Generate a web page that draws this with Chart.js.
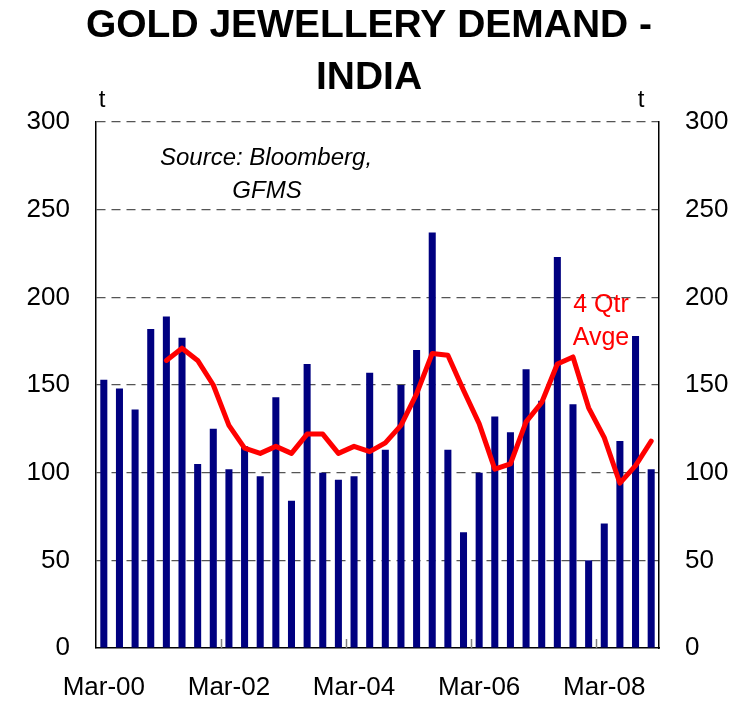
<!DOCTYPE html>
<html>
<head>
<meta charset="utf-8">
<title>Gold Jewellery Demand - India</title>
<script src="https://cdn.jsdelivr.net/npm/chart.js@4/dist/chart.umd.min.js"></script>
<style>
  html, body { margin: 0; padding: 0; background: #ffffff; }
  #wrap { width: 738px; height: 702px; }
</style>
</head>
<body>
<div id="wrap"><canvas id="chart" width="738" height="702"></canvas></div>
<script>
// Quarterly periods
const quarters = [
  'Mar-00','Jun-00','Sep-00','Dec-00',
  'Mar-01','Jun-01','Sep-01','Dec-01',
  'Mar-02','Jun-02','Sep-02','Dec-02',
  'Mar-03','Jun-03','Sep-03','Dec-03',
  'Mar-04','Jun-04','Sep-04','Dec-04',
  'Mar-05','Jun-05','Sep-05','Dec-05',
  'Mar-06','Jun-06','Sep-06','Dec-06',
  'Mar-07','Jun-07','Sep-07','Dec-07',
  'Mar-08','Jun-08','Sep-08','Dec-08'
];

// Gold jewellery demand, tonnes per quarter
const demand = [
  153, 148, 136, 182,
  189, 177, 105, 125,
  102, 115,  98, 143,
   84, 162, 100,  96,
   98, 157, 113, 150,
  170, 237, 113,  66,
  100, 132, 123, 159,
  141, 223, 139,  50,
   71, 118, 178, 102
];

// Four-quarter average, tonnes
const avg4q = [
  null, null, null, null,
  164, 171, 164, 150,
  127, 114, 111, 115,
  111, 122, 122, 111,
  115, 112, 117, 127,
  145, 168, 167, 147,
  128, 102, 105, 129,
  140, 162, 166, 137,
  120,  94, 104, 118
];

// Value axis ticks (both sides)
const yTicks = [0, 50, 100, 150, 200, 250, 300];

const FONT = "'Liberation Sans', Arial, Helvetica, sans-serif";

// Annotations: unit marks, source note, series label, category tick marks
const annotations = {
  id: 'annotations',
  afterDraw(chart) {
    const { ctx, chartArea: a, scales } = chart;
    const xs = scales.x;
    ctx.save();

    // small tick marks every two years, rising from the category axis
    ctx.strokeStyle = '#808080';
    ctx.lineWidth = 1.5;
    for (let i = 8; i < quarters.length; i += 8) {
      const px = Math.round((xs.getPixelForValue(i - 1) + xs.getPixelForValue(i)) / 2) + 0.5;
      ctx.beginPath();
      ctx.moveTo(px, a.bottom);
      ctx.lineTo(px, a.bottom - 9);
      ctx.stroke();
    }

    ctx.fillStyle = '#000';
    ctx.textBaseline = 'middle';
    ctx.textAlign = 'center';
    ctx.font = `24px ${FONT}`;
    ctx.fillText('t', a.left + 6, a.top - 22);
    ctx.fillText('t', a.right - 18, a.top - 22);

    ctx.font = `italic 24px ${FONT}`;
    ctx.fillText('Source: Bloomberg,', a.left + 170, a.top + 36);
    ctx.fillText('GFMS', a.left + 171, a.top + 69);

    ctx.fillStyle = '#ff0000';
    ctx.font = `25px ${FONT}`;
    ctx.fillText('4 Qtr', a.left + 505, a.top + 183);
    ctx.fillText('Avge', a.left + 505, a.top + 216);

    ctx.restore();
  }
};

new Chart(document.getElementById('chart'), {
  data: {
    labels: quarters,
    datasets: [
      {
        type: 'line',
        label: '4 Qtr Avge',
        data: avg4q,
        borderColor: '#ff0000',
        borderWidth: 5,
        borderJoinStyle: 'round',
        borderCapStyle: 'round',
        pointRadius: 0,
        tension: 0,
        spanGaps: false,
        order: 0,
        yAxisID: 'y'
      },
      {
        type: 'bar',
        label: 'Demand',
        data: demand,
        backgroundColor: '#000080',
        borderWidth: 0,
        categoryPercentage: 1.0,
        barPercentage: 0.45,
        order: 1,
        yAxisID: 'y'
      }
    ]
  },
  options: {
    responsive: false,
    devicePixelRatio: 1,
    animation: false,
    layout: { padding: 0 },
    plugins: {
      legend: { display: false },
      tooltip: { enabled: false },
      title: {
        display: true,
        text: ['GOLD JEWELLERY DEMAND -', 'INDIA'],
        color: '#000',
        font: { family: FONT, size: 39, weight: 'bold', lineHeight: 1.33 },
        padding: { top: 0, bottom: 18.26 }
      }
    },
    scales: {
      x: {
        type: 'category',
        offset: true,
        grid: { display: false, drawTicks: false },
        border: { display: true, color: '#000', width: 1.5 },
        ticks: {
          autoSkip: false,
          maxRotation: 0,
          minRotation: 0,
          padding: 24,
          color: '#000',
          font: { family: FONT, size: 26 },
          callback: (v, i) => (i % 8 === 0 ? quarters[i] : '')
        },
        afterFit: (s) => { s.height = 54; }
      },
      y: {
        position: 'left',
        min: 0,
        max: 300,
        afterBuildTicks: (s) => { s.ticks = yTicks.map(v => ({ value: v })); },
        grid: {
          drawTicks: false,
          lineWidth: 1.2,
          color: (c) => (c.tick && c.tick.value === 0 ? 'rgba(0,0,0,0)' : '#555555')
        },
        border: { display: true, color: '#000', width: 1.5, dash: [9, 6] },
        ticks: { padding: 26, color: '#000', font: { family: FONT, size: 26 } },
        afterFit: (s) => { s.width = 96; }
      },
      y1: {
        position: 'right',
        min: 0,
        max: 300,
        afterBuildTicks: (s) => { s.ticks = yTicks.map(v => ({ value: v })); },
        grid: { drawOnChartArea: false, drawTicks: false },
        border: { display: true, color: '#000', width: 1.5 },
        ticks: { padding: 26, color: '#000', font: { family: FONT, size: 26 } },
        afterFit: (s) => { s.width = 79; }
      }
    }
  },
  plugins: [annotations]
});
</script>
</body>
</html>
